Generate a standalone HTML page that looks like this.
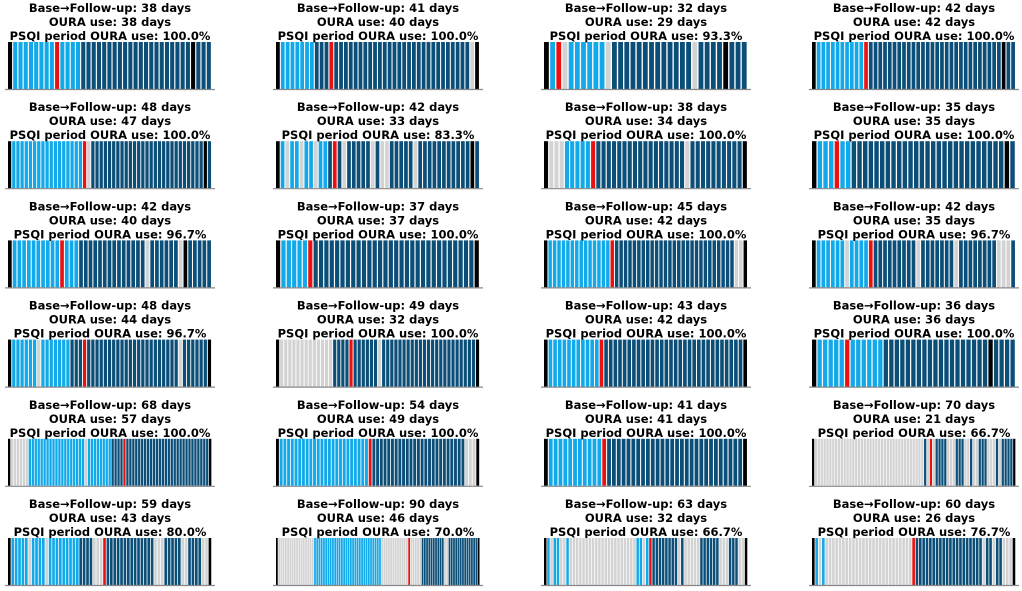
<!DOCTYPE html>
<html><head><meta charset="utf-8"><style>
html,body{margin:0;padding:0;background:#fff;width:1022px;height:591px;overflow:hidden}
svg{display:block}
text{font-family:"DejaVu Sans","Liberation Sans",sans-serif;font-weight:bold;font-size:11.5px;fill:#000}
</style></head><body>
<svg id="chart" width="1022" height="591"></svg>
<script>
const baseDays=[38,41,32,42,48,42,38,35,42,37,45,42,48,49,43,36,68,54,41,70,59,90,63,60];
const ouraDays=[38,40,29,42,47,33,34,35,40,37,42,35,44,32,42,36,57,49,41,21,43,46,32,26];
const psqiPct=["100.0","100.0","93.3","100.0","100.0","83.3","100.0","100.0","96.7","100.0","100.0","96.7","96.7","100.0","100.0","100.0","100.0","100.0","100.0","66.7","80.0","70.0","66.7","76.7"];
// runs: code+count  K=black L=light blue D=dark blue G=gray R=red
const dayRuns=[
"K1 L8 R1 L4 D21 K1 D3","K1 L7 D3 R1 D28 G1 K1","K1 L1 R1 G1 L6 G1 D13 G1 D4 K1 D3","K1 L10 R1 D28 K1 D2",
"K1 L17 R1 G1 D27 K1 D1","K1 L1 G1 L2 G1 L2 G1 L2 D1 R1 D1 G1 D5 G1 D1 G2 D5 G1 D11 K1 D1","K1 G3 L5 R1 D17 G1 D10 K1","K1 L3 R1 L2 D27 K1 D1",
"K1 L10 R1 L3 D14 G1 D6 G1 K1 D5","K1 L5 R1 D30 K1","K1 L14 R1 D27 G2 K1","K1 L6 G1 L4 R1 D9 G1 D7 G1 D8 G3 D1",
"K1 L6 G1 L7 D3 R1 D22 G1 D6 K1","K1 G13 D4 R1 D6 G1 D23 K1","K1 L11 R1 D30 K1","K1 L5 R1 L6 D19 K1 D4",
"K1 G6 L19 G1 L8 D4 R1 D28 K1","K1 L24 R1 D25 G3 K1","K1 L11 R1 D28 K1","K1 G38 D1 G1 R1 G1 D4 G3 D3 G2 D1 G2 D3 G3 D1 G1 D4 K1",
"K1 L5 G1 L4 G1 L9 D4 G3 R1 D14 G3 D5 G2 D4 G2 K1","K1 G16 L30 G12 R1 G5 D10 G2 D13 K1","K1 L1 G1 L2 G2 L1 G21 L2 G1 L1 R1 D8 G1 D1 G5 D6 G3 D3 G2 K1","K1 L1 G1 L1 G26 R1 D20 G1 D2 G1 D2 G3 K1"
];
const colors={K:"#000000",L:"#12a9ea",D:"#0b4e78",G:"#d3d3d3",R:"#ec1111"};
const NS="http://www.w3.org/2000/svg";
const svg=document.getElementById('chart');
const rowY=[0,99.2,198.4,297.6,396.8,496];
const panelW=204, barTop=42, barBot=89;
function mk(t,a){const e=document.createElementNS(NS,t);for(const k in a)e.setAttribute(k,a[k]);return e;}
for(let i=0;i<24;i++){
  const r=Math.floor(i/4),c=i%4;
  const x0=8+c*268, y0=rowY[r];
  const g=mk('g',{});
  
  
  svg.appendChild(g);
  const lines=["Base\u2192Follow-up: "+baseDays[i]+" days","OURA use: "+ouraDays[i]+" days","PSQI period OURA use: "+psqiPct[i]+"%"];
  lines.forEach((s,j)=>{
    const t=mk('text',{x:x0+panelW/2,y:y0+12+j*14,'text-anchor':'middle'});
    
    
    t.textContent=s;g.appendChild(t);
  });
  const seq=[];
  dayRuns[i].split(' ').forEach(tok=>{const code=tok[0],n=parseInt(tok.slice(1));for(let k=0;k<n;k++)seq.push(code);});
  const n=seq.length, bw=panelW/n;
  seq.forEach((code,k)=>{
    const b=mk('rect',{x:x0+k*bw,y:y0+barTop,width:Math.max(bw*0.78,1),height:barBot-barTop,fill:colors[code]});
    
    
    g.appendChild(b);
  });
  const ax=mk('line',{x1:x0-3,x2:x0+panelW+3,y1:y0+barBot+0.5,y2:y0+barBot+0.5,stroke:'#888',"stroke-width":1.2});
  
  
  g.appendChild(ax);
}
</script>
</body></html>
